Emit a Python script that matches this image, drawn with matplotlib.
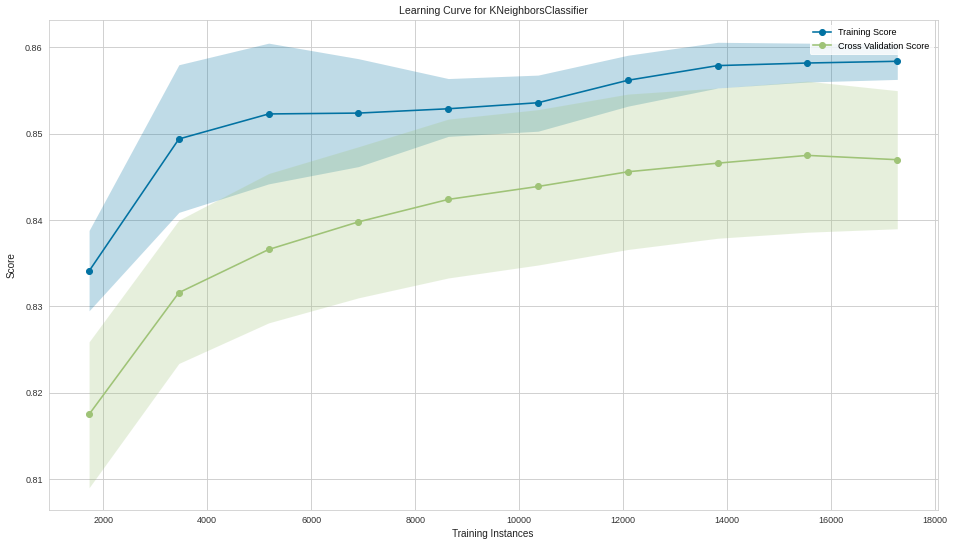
import numpy as np
import matplotlib
matplotlib.use('Agg')
import matplotlib.pyplot as plt

# training set sizes
train_sizes = [1727, 3454, 5181, 6908, 8635, 10362, 12089, 13816, 15543, 17270]

# training score: mean and band
train_mean = [0.8341, 0.8494, 0.8523, 0.8524, 0.8529, 0.8536, 0.8562, 0.8579, 0.8582, 0.8584]
train_upper = [0.8388, 0.8580, 0.8605, 0.8587, 0.8564, 0.8568, 0.8591, 0.8606, 0.8605, 0.8604]
train_lower = [0.8295, 0.8409, 0.8442, 0.8462, 0.8497, 0.8503, 0.8532, 0.8553, 0.8560, 0.8563]

# cross validation score: mean and band
cv_mean = [0.8175, 0.8316, 0.8366, 0.8398, 0.8424, 0.8439, 0.8456, 0.8466, 0.8475, 0.8470]
cv_upper = [0.8259, 0.8400, 0.8454, 0.8485, 0.8517, 0.8528, 0.8546, 0.8553, 0.8561, 0.8550]
cv_lower = [0.8090, 0.8234, 0.8281, 0.8310, 0.8333, 0.8348, 0.8366, 0.8379, 0.8386, 0.8390]

blue = '#0272a2'
green = '#9fc377'

plt.rcParams['font.family'] = ['Liberation Sans', 'DejaVu Sans']

fig = plt.figure(figsize=(958 / 72, 547 / 72), dpi=72)
ax = fig.add_axes([0.0508, 0.0676, 0.928, 0.8958])
ax.set_facecolor('white')

ax.fill_between(train_sizes, train_lower, train_upper, color=blue, alpha=0.25, linewidth=0)
ax.fill_between(train_sizes, cv_lower, cv_upper, color=green, alpha=0.25, linewidth=0)
ax.plot(train_sizes, train_mean, 'o-', color=blue, label='Training Score', markersize=6, linewidth=1.6)
ax.plot(train_sizes, cv_mean, 'o-', color=green, label='Cross Validation Score', markersize=6, linewidth=1.6)

ax.set_xticks(np.arange(2000, 18001, 2000))
ax.set_yticks([0.81, 0.82, 0.83, 0.84, 0.85, 0.86])
ax.grid(True, color='#cccccc', linewidth=0.9)
ax.set_axisbelow(True)
for s in ax.spines.values():
    s.set_color('#cccccc')
ax.tick_params(length=0, labelsize=9, colors='#333333', pad=6)

ax.set_title('Learning Curve for KNeighborsClassifier', fontsize=10.5, color='#222222', pad=6)
ax.set_xlabel('Training Instances', fontsize=10, color='#222222', labelpad=4)
ax.set_ylabel('Score', fontsize=10, color='#222222', labelpad=8)

leg = ax.legend(loc='upper right', fontsize=9, frameon=True, framealpha=0.8, edgecolor='white',
                borderpad=0.4, handlelength=2.0)

fig.savefig('out.png', dpi=72, facecolor='white')
